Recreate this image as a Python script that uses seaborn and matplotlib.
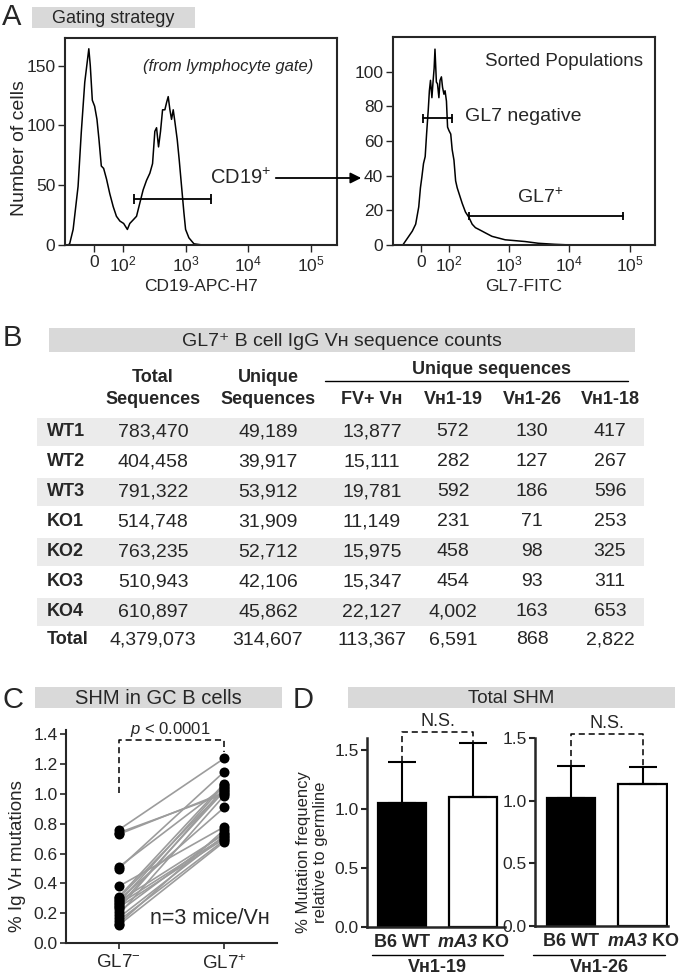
import matplotlib
matplotlib.use('Agg')
import matplotlib.pyplot as plt
import seaborn as sns
import pandas as pd
import numpy as np
from matplotlib.patches import Rectangle
from matplotlib.ticker import NullLocator

sns.set_style('ticks')
plt.rcParams['font.family'] = ['Liberation Sans', 'DejaVu Sans']
plt.rcParams['mathtext.fontset'] = 'custom'
plt.rcParams['mathtext.rm'] = 'Liberation Sans'
plt.rcParams['mathtext.it'] = 'Liberation Sans:italic'
plt.rcParams['mathtext.bf'] = 'Liberation Sans:bold'
plt.rcParams['mathtext.bfit'] = 'Liberation Sans:italic:bold'

# --- data: panel A histograms (channel value, cell count) ---
cd19_x = [-90, -84, -72, -55, -44, -32, -24, -18, -13, -6, 2, 10, 17, 25, 33, 43, 54, 66, 77, 89,
          102, 117, 128, 145, 164, 185, 209, 237, 268, 296, 322, 343, 369, 397, 428, 466, 496,
          527, 561, 596, 634, 674, 735, 791, 862, 940, 1000, 1130, 1360, 1860]
cd19_y = [0, 1, 13, 49, 94, 136, 152, 164, 150, 121, 116, 105, 88, 66, 64, 55, 43, 32, 24, 20,
          18, 13, 18, 21, 24, 35, 46, 54, 60, 68, 95, 98, 82, 95, 113, 113, 119,
          124, 113, 105, 113, 103, 88, 71, 49, 27, 13, 6, 1, 0]
cd19_gate = [148, 2520]
cd19_gate_y = 38.5

gl7_x = [-65, -48, -31, -19, -8, -2, 3, 9, 15, 20, 26, 30, 34, 39, 43, 47, 50, 55, 59, 64, 68,
         73, 77, 82, 86, 91, 95, 100, 107, 113, 121, 129, 137, 146, 166, 188, 214, 243, 275,
         313, 355, 402, 518, 667, 859, 1260, 1840, 3050, 5730, 10800]
gl7_y = [0, 4, 8, 12, 22, 33, 39, 47, 51, 64, 78, 89, 95, 85, 94, 102, 113, 94, 93, 85, 95,
         97, 91, 87, 89, 83, 68, 66, 64, 55, 49, 37, 33, 30, 24, 19, 16, 12, 10,
         9, 8, 7, 5, 4, 3, 2.5, 2, 1, 0.4, 0]
gl7neg_gate = [7, 113]
gl7neg_gate_y = 73
gl7pos_gate = [214, 79000]
gl7pos_gate_y = 16.7

log_ticks = [0, 1e2, 1e3, 1e4, 1e5]
log_labels = ['0', '$10^2$', '$10^3$', '$10^4$', '$10^5$']

# --- data: panel B table ---
table_rows = ['WT1', 'WT2', 'WT3', 'KO1', 'KO2', 'KO3', 'KO4', 'Total']
total_seq = [783470, 404458, 791322, 514748, 763235, 510943, 610897, 4379073]
unique_seq = [49189, 39917, 53912, 31909, 52712, 42106, 45862, 314607]
fv_vh = [13877, 15111, 19781, 11149, 15975, 15347, 22127, 113367]
vh1_19 = [572, 282, 592, 231, 458, 454, 4002, 6591]
vh1_26 = [130, 127, 186, 71, 98, 93, 163, 868]
vh1_18 = [417, 267, 596, 253, 325, 311, 653, 2822]
sub_headers = ['FV+ Vʜ', 'Vʜ1-19', 'Vʜ1-26', 'Vʜ1-18']

# --- data: panel C paired SHM values ---
shm_gl7neg = [0.76, 0.74, 0.73, 0.51, 0.50, 0.38, 0.31, 0.30, 0.29, 0.28, 0.27, 0.26, 0.25,
              0.24, 0.23, 0.21, 0.19, 0.17, 0.15, 0.13, 0.12]
shm_gl7pos = [1.24, 1.00, 1.01, 1.05, 1.15, 0.78, 1.07, 1.03, 0.91, 0.73, 1.06, 0.71, 1.02,
              0.70, 1.04, 0.74, 0.99, 0.72, 0.69, 0.76, 0.68]

# --- data: panel D bars ---
d_groups = ['B6 WT', 'mA3 KO']
d_labels = ['B6 WT', r'$\mathbfit{mA3}$ KO']
vh1_19_mean = [1.05, 1.10]
vh1_19_err = [0.345, 0.455]
vh1_26_mean = [1.02, 1.13]
vh1_26_err = [0.26, 0.135]

W, H = 680, 975
GRAY_BAR = '#d9d9d9'
GRAY_ROW = '#ebebeb'


def rect(l, t, r, b):
    return [l / W, 1 - b / H, (r - l) / W, (b - t) / H]


fig = plt.figure(figsize=(W / 100, H / 100), dpi=100)

# overlay in pixel coordinates for labels, title bars, table
ov = fig.add_axes([0, 0, 1, 1], zorder=10)
ov.set_xlim(0, W)
ov.set_ylim(H, 0)
ov.axis('off')


def title_bar(l, t, r, b, text, size=13):
    ov.add_patch(Rectangle((l, t), r - l, b - t, color=GRAY_BAR, lw=0))
    ov.text((l + r) / 2, (t + b) / 2 + 1, text, ha='center', va='center', fontsize=size)


for letter, (lx, ly) in zip('ABCD', [(2, 17), (3, 338), (2, 700), (293, 700)]):
    ov.text(lx, ly, letter, fontsize=21, ha='left', va='center')

# ---------------- Panel A ----------------
title_bar(32, 7, 195, 28, 'Gating strategy')


def flow_axes(ax, x, y, ymax, yticks):
    sns.lineplot(x=x, y=y, ax=ax, color='k', lw=1.1, sort=False, estimator=None)
    ax.set_xscale('symlog', linthresh=100, linscale=0.4185)
    ax.set_xlim(-100, 2.65e5)
    ax.set_ylim(0, ymax)
    ax.set_xticks(log_ticks, log_labels)
    ax.xaxis.set_minor_locator(NullLocator())
    ax.set_yticks(yticks)
    for s in ax.spines.values():
        s.set_linewidth(1.5)
    ax.tick_params(labelsize=12.5, length=5, width=1, pad=2)


axA1 = fig.add_axes(rect(65, 38, 337, 245))
flow_axes(axA1, cd19_x, cd19_y, 173, [0, 50, 100, 150])
axA1.plot(cd19_gate, [cd19_gate_y] * 2, color='k', lw=1.3)
axA1.vlines(cd19_gate, cd19_gate_y - 4, cd19_gate_y + 4, colors='k', lw=1.3)
axA1.set_ylabel('Number of cells', fontsize=14)
axA1.yaxis.set_label_coords(-0.135, 0.47)
axA1.set_xlabel('CD19-APC-H7', fontsize=12.5)
axA1.xaxis.set_label_coords(0.5, -0.165)
axA1.text(0.6, 0.86, '(from lymphocyte gate)', transform=axA1.transAxes, fontsize=12,
          style='italic', ha='center', va='center')
axA1.text(0.533, 0.324, 'CD19$^{+}$', transform=axA1.transAxes, fontsize=14.5,
          ha='left', va='center')

axA2 = fig.add_axes(rect(393, 37, 655, 245))
flow_axes(axA2, gl7_x, gl7_y, 120, [0, 20, 40, 60, 80, 100])
axA2.plot(gl7neg_gate, [gl7neg_gate_y] * 2, color='k', lw=1.3)
axA2.vlines(gl7neg_gate, gl7neg_gate_y - 2.5, gl7neg_gate_y + 2.5, colors='k', lw=1.3)
axA2.plot(gl7pos_gate, [gl7pos_gate_y] * 2, color='k', lw=1.3)
axA2.vlines(gl7pos_gate, gl7pos_gate_y - 2.5, gl7pos_gate_y + 2.5, colors='k', lw=1.3)
axA2.set_ylabel('')
axA2.set_xlabel('GL7-FITC', fontsize=12.5)
axA2.xaxis.set_label_coords(0.5, -0.165)
axA2.text(0.954, 0.88, 'Sorted Populations', transform=axA2.transAxes, fontsize=13.5,
          ha='right', va='center')
axA2.text(0.275, 0.62, 'GL7 negative', transform=axA2.transAxes, fontsize=14,
          ha='left', va='center')
axA2.text(0.56, 0.23, 'GL7$^{+}$', transform=axA2.transAxes, fontsize=14,
          ha='center', va='center')

ov.annotate('', xy=(364, 178), xytext=(273, 178),
            arrowprops=dict(arrowstyle='-|>', color='k', lw=1.3, mutation_scale=16))

# ---------------- Panel B: table ----------------
title_bar(49, 328, 635, 352, 'GL7⁺ B cell IgG Vʜ sequence counts', size=14)
col_x = [153, 268, 372, 453, 532, 610]
row_y = [432, 462, 492, 522, 552, 582, 612, 640]

for cx, top in zip(col_x[:2], ['Total', 'Unique']):
    ov.text(cx, 377, top, ha='center', va='center', fontsize=13, fontweight='bold')
    ov.text(cx, 399, 'Sequences', ha='center', va='center', fontsize=13, fontweight='bold')
ov.text(491, 370, 'Unique sequences', ha='center', va='center', fontsize=13, fontweight='bold')
ov.plot([325, 628], [381, 381], color='k', lw=1)
for cx, lab in zip(col_x[2:], sub_headers):
    ov.text(cx, 399, lab, ha='center', va='center', fontsize=13, fontweight='bold')

columns = [total_seq, unique_seq, fv_vh, vh1_19, vh1_26, vh1_18]
for i, (name, ry) in enumerate(zip(table_rows, row_y)):
    if i % 2 == 0 and name != 'Total':
        ov.add_patch(Rectangle((37, ry - 14), 607, 28, color=GRAY_ROW, lw=0, zorder=0))
    ov.text(47, ry, name, ha='left', va='center', fontsize=13, fontweight='bold')
    for cx, col in zip(col_x, columns):
        ov.text(cx, ry, f'{col[i]:,}', ha='center', va='center', fontsize=14)

# ---------------- Panel C ----------------
title_bar(35, 687, 282, 708, 'SHM in GC B cells', size=14.5)
n = len(shm_gl7neg)
shm = pd.DataFrame({
    'pair': list(range(n)) * 2,
    'group': ['GL7-'] * n + ['GL7+'] * n,
    'value': shm_gl7neg + shm_gl7pos,
})
shm['pos'] = shm['group'].map({'GL7-': 0, 'GL7+': 1})

axC = fig.add_axes(rect(66, 730, 277, 943))
sns.lineplot(data=shm, x='pos', y='value', units='pair', estimator=None,
             color='#9c9c9c', lw=1.2, ax=axC)
sns.scatterplot(data=shm, x='pos', y='value', color='k', s=52, linewidth=0,
                zorder=3, ax=axC)
axC.set_xlim(-0.5, 1.5)
axC.set_ylim(0, 1.43)
yt = np.round(np.arange(0, 1.41, 0.2), 1)
axC.set_yticks(yt, [f'{v:.1f}' for v in yt])
axC.set_xticks([0, 1], ['GL7$^{-}$', 'GL7$^{+}$'])
axC.tick_params(axis='y', labelsize=12.5, length=4, width=1.2, pad=2)
axC.tick_params(axis='x', labelsize=13.5, length=4, width=1.2, pad=4)
sns.despine(ax=axC)
for s in ['left', 'bottom']:
    axC.spines[s].set_linewidth(1.5)
axC.set_xlabel('')
axC.set_ylabel('% Ig Vʜ mutations', fontsize=13.5)
axC.yaxis.set_label_coords(-0.19, 0.41)

br_left, br_top, br_right = 1.01, 1.365, max(shm_gl7pos) + 0.04
axC.plot([0, 0, 1, 1], [br_left, br_top, br_top, br_right], ls=(0, (4, 2.5)),
         color='k', lw=1.1, clip_on=False)
axC.text(0.49, br_top + 0.005, '$p$ < 0.0001', ha='center', va='bottom', fontsize=12)
axC.text(0.967, 0.117, 'n=3 mice/Vʜ', transform=axC.transAxes, ha='right',
         va='center', fontsize=15.5)

# ---------------- Panel D ----------------
title_bar(348, 687, 675, 708, 'Total SHM', size=13.5)


def bar_axes(ax, means, errs, ymax, ns_top, ns_text_y):
    sns.barplot(x=d_groups, y=means, hue=d_groups, palette=['black', 'white'],
                edgecolor='black', linewidth=1.6, width=0.68, legend=False, ax=ax)
    ax.errorbar([0, 1], means, yerr=[[0, 0], errs], fmt='none', ecolor='k',
                elinewidth=1.5, capsize=10, capthick=1.5)
    tops = [m + e for m, e in zip(means, errs)]
    ax.plot([0, 0, 1, 1], [tops[0], ns_top, ns_top, tops[1]], ls=(0, (4, 2.5)),
            color='k', lw=1.1, clip_on=False)
    ax.text(0.5, ns_text_y, 'N.S.', ha='center', va='center', fontsize=13)
    ax.set_ylim(0, ymax)
    ax.set_yticks([0, 0.5, 1.0, 1.5], ['0.0', '0.5', '1.0', '1.5'])
    ax.set_xticks([0, 1], d_labels, fontweight='bold')
    ax.tick_params(axis='y', labelsize=12.5, length=4, width=1.5, pad=2)
    ax.tick_params(axis='x', labelsize=13, length=0, pad=5)
    sns.despine(ax=ax)
    for s in ['left', 'bottom']:
        ax.spines[s].set_linewidth(1.8)


axD1 = fig.add_axes(rect(367, 738, 505, 927))
bar_axes(axD1, vh1_19_mean, vh1_19_err, 1.6, 1.65, 1.74)
axD1.set_xlim(-0.5, 1.45)

axD2 = fig.add_axes(rect(535, 738, 668, 926))
bar_axes(axD2, vh1_26_mean, vh1_26_err, 1.5, 1.53, 1.615)
axD2.set_xlim(-0.5, 1.35)

ov.text(312, 852, '% Mutation frequency\nrelative to germline', rotation=90,
        ha='center', va='center', fontsize=12, linespacing=1.2)
for (l, r), lab in zip([(372, 503), (533, 665)], ['Vʜ1-19', 'Vʜ1-26']):
    ov.plot([l, r], [955, 955], color='k', lw=1)
    ov.text((l + r) / 2, 967, lab, ha='center', va='center', fontsize=13, fontweight='bold')

fig.savefig('out.png', dpi=100)
